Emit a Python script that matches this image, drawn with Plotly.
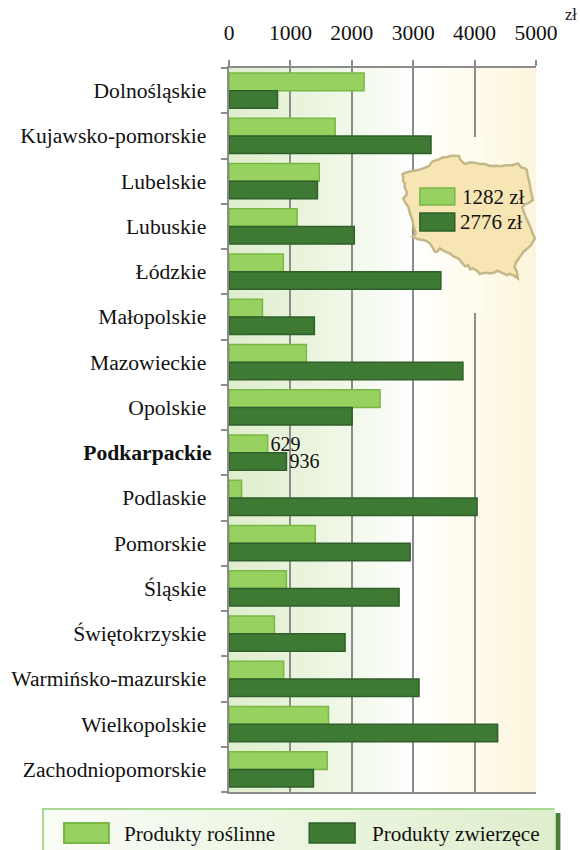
import plotly.graph_objects as go

regions = ["Dolnośląskie","Kujawsko-pomorskie","Lubelskie","Lubuskie","Łódzkie","Małopolskie","Mazowieckie","Opolskie",
           "Podkarpackie","Podlaskie","Pomorskie","Śląskie","Świętokrzyskie","Warmińsko-mazurskie","Wielkopolskie","Zachodniopomorskie"]
plant = [2200,1730,1470,1110,885,545,1260,2460,629,205,1405,935,740,890,1620,1600]
animal = [790,3290,1440,2040,3450,1390,3810,2005,936,4040,2950,2770,1890,3095,4375,1375]
plant_labels = [""]*8+["629"]+[""]*7
animal_labels = [""]*8+["936"]+[""]*7
x_ticks = [0,1000,2000,3000,4000,5000]
avg_plant = "1282 zł"
avg_animal = "2776 zł"
y_ticktext = [f"<b>{r}</b>" if r=="Podkarpackie" else r+"\u00a0" for r in regions]
FONT = "Liberation Serif"
LIGHT, LIGHT_L = "#97d160", "#7ab846"
DARK, DARK_L = "#3f7a35", "#2f5f2a"
W, H = 580, 850
L, R, T, B = 228.5, 536.5, 68, 792

def px(x): return (x-L)/(R-L)
def py(y): return (B-y)/(B-T)

def lerp(a,b,t): return tuple(round(a[i]+(b[i]-a[i])*t) for i in range(3))
def grad(t):
    stops=[(0,(222,238,204)),(0.3,(236,245,224)),(0.62,(255,255,255)),(0.72,(255,253,243)),(1,(253,245,220))]
    for (a,ca),(b,cb) in zip(stops,stops[1:]):
        if t<=b: return "rgb(%d,%d,%d)"%lerp(ca,cb,(t-a)/(b-a))
    return "rgb(253,245,220)"

shapes=[]
n=60
for i in range(n):
    shapes.append(dict(type="rect",xref="x",yref="paper",x0=5000*i/n,x1=5000*(i+1)/n+5,y0=0,y1=1,
                       fillcolor=grad((i+.5)/n),line_width=0,layer="below"))

fig=go.Figure()
for vals,name,c,cl,lab in [(plant,"Produkty roślinne",LIGHT,LIGHT_L,plant_labels),(animal,"Produkty zwierzęce",DARK,DARK_L,animal_labels)]:
    fig.add_bar(y=regions,x=vals,name=name,orientation="h",marker=dict(color=c,line=dict(color=cl,width=1.5)),
                text=lab,textposition="outside",constraintext="none",textfont=dict(family=FONT,size=20,color="#111"),cliponaxis=False,showlegend=False)

def rect(x0,y0,x1,y1,fill,line=None,w=0):
    return dict(type="rect",xref="paper",yref="paper",x0=px(x0),x1=px(x1),y0=py(y0),y1=py(y1),fillcolor=fill,
                line=dict(color=line or fill,width=w),layer="above")

# map of Poland (decorative outline traced in page pixels)
outline=[(8,72),(24,66),(40,62),(55,60),(70,55),(88,48),(94,38),(100,33),(115,29),(130,22),(142,21),(155,17),(178,18),(180,26),(183,30),(190,38),(197,42),(212,37),(225,38),(240,42),(255,42),(272,48),(290,47),(305,49),(320,46),(338,46),(355,40),(365,52),(376,55),(382,60),(384,75),(388,90),(391,105),(392,115),(396,132),(400,150),(392,156),(385,160),(375,164),(368,172),(373,186),(378,200),(385,215),(392,230),(398,248),(406,265),(400,276),(395,285),(384,295),(372,305),(366,314),(358,325),(350,336),(345,350),(352,366),(355,385),(342,376),(330,372),(322,376),(315,372),(305,368),(295,362),(283,368),(270,370),(255,368),(240,372),(232,362),(220,355),(212,358),(205,345),(196,349),(190,342),(182,332),(175,325),(162,320),(150,310),(138,306),(120,295),(112,306),(105,305),(97,290),(90,280),(80,273),(70,270),(54,268),(38,260),(47,252),(45,240),(40,225),(38,210),(30,190),(25,170),(16,158),(10,145),(20,135),(20,125),(14,112),(15,100),(9,92),(10,85)]
path="M"+" L".join(f"{px(400+x/3):.4f},{py(150+y/3):.4f}" for x,y in outline)+" Z"
# halo that hides the 4000 gridline around the map
shapes.append(rect(465,137,483,313,"rgb(255,252,240)"))
shapes.append(dict(type="path",xref="paper",yref="paper",path=path,fillcolor="#f7e6b3",line=dict(color="#c2b88a",width=2.5),layer="above"))
shapes.append(rect(420,188,455,205,LIGHT,LIGHT_L,1.5))
shapes.append(rect(420,213,455,231,DARK,DARK_L,1.5))
# bottom legend box
m=40
shapes.append(rect(556,813,561,850,"#4a7f3a"))
for i in range(m):
    a=41+(555-41)*i/m; b=41+(555-41)*(i+1)/m+1
    c=lerp((250,252,246),(222,238,204),i/m)
    shapes.append(rect(a,809,b,850,"rgb(%d,%d,%d)"%c))
shapes.append(rect(41,808,555,810,"#a8d994"))
shapes.append(rect(41,808,43,850,"#a8d994"))
shapes.append(rect(63,823,108,843,LIGHT,LIGHT_L,2))
shapes.append(rect(309,823,355,843,DARK,DARK_L,1.5))

def ann(x,y,t,size=21):
    return dict(xref="paper",yref="paper",x=px(x),y=py(y),text=t,showarrow=False,xanchor="left",yanchor="middle",
                xshift=-2,font=dict(family=FONT,size=size,color="#111"))
anns=[ann(462,197,avg_plant,21),ann(460,222,avg_animal,21),ann(566,15,"zł",16.5),
      ann(123,834,"Produkty roślinne",21.2),ann(372,834,"Produkty zwierzęce",21.2)]

fig.update_layout(width=W,height=H,autosize=False,margin=dict(l=L,r=W-R,t=T,b=H-B),paper_bgcolor="white",plot_bgcolor="white",
    barmode="group",bargap=0.22,bargroupgap=0,shapes=shapes,annotations=anns,font=dict(family=FONT,size=21,color="#111"),
    xaxis=dict(side="top",range=[0,5000],tickvals=x_ticks,showgrid=True,gridcolor="#8c8c8c",gridwidth=2,showline=True,linecolor="#8c8c8c",linewidth=1.5,
               mirror=True,ticks="outside",ticklen=6,tickcolor="#8c8c8c",tickwidth=2,zeroline=False,tickfont=dict(family=FONT,size=21.5,color="#111"),
               ticklabelstandoff=12,layer="below traces"),
    yaxis=dict(autorange="reversed",type="category",tickmode="array",tickvals=regions,ticktext=y_ticktext,tickson="boundaries",ticks="outside",ticklen=6,
               tickcolor="#8c8c8c",tickwidth=1.5,showline=True,linecolor="#8c8c8c",linewidth=2,mirror=False,ticklabelstandoff=11,showgrid=False,
               tickfont=dict(family=FONT,size=21.6,color="#111")))
fig.write_html("out.html",config=dict(displayModeBar=False),post_script="document.body.style.margin='0';")
